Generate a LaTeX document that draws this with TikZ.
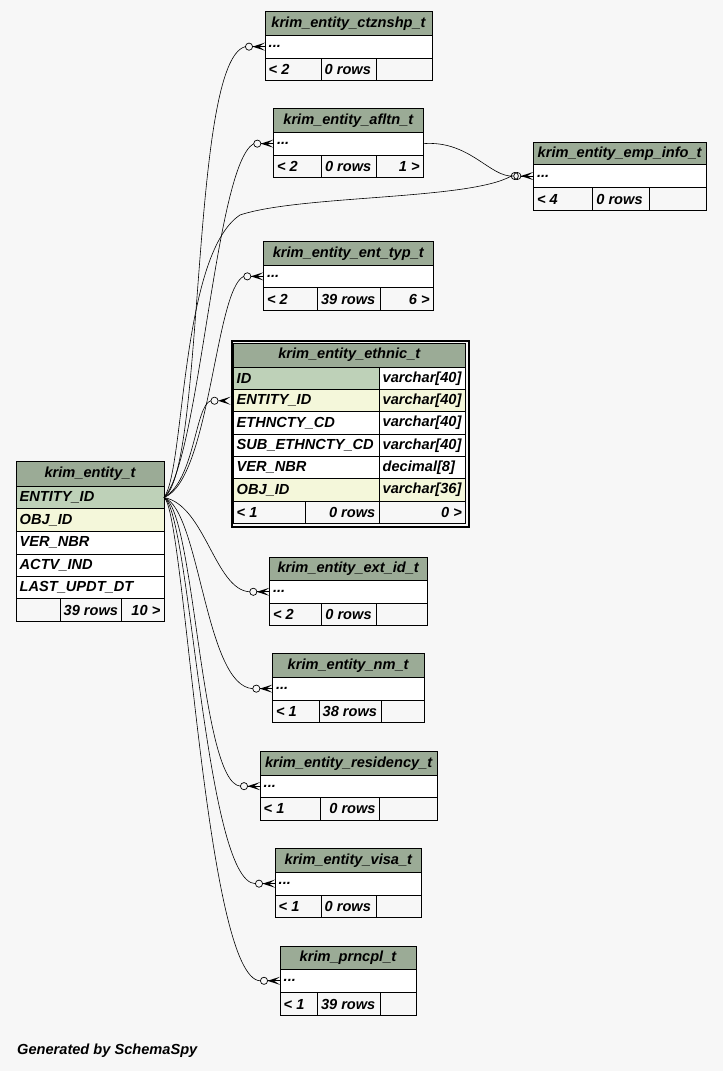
\documentclass[tikz,border=0pt]{standalone}
\usepackage{fontspec}
\setmainfont{Liberation Sans}
\usetikzlibrary{calc}
\definecolor{bgc}{HTML}{F7F7F7}
\definecolor{headc}{HTML}{9BAB96}
\definecolor{pkc}{HTML}{BED1B8}
\definecolor{fkc}{HTML}{F4F7DA}
\tikzset{
  cellbox/.style={draw=black, line width=0.9pt, inner sep=0pt, outer sep=0pt},
  celltext/.style={inner xsep=3.5pt, inner ysep=0pt, font=\fontsize{14.6}{16}\selectfont\bfseries\itshape},
  rel/.style={draw=black, line width=0.6pt},
}
% \tcell{name}{x1}{y1}{x2}{y2}{fill}{anchor}{text}
\newcommand\tcell[8]{%
  \node[cellbox, fill=#6, minimum width={#4-#2}, minimum height={#5-#3}, anchor=north west] (#1) at (#2,#3) {};
  \node[celltext, anchor=#7] (#1-t) at (#1.#7) {#8};
}
% \crowend{node}  zero-or-many end at west side of a row node
\newcommand\crowend[1]{%
  \draw[line width=0.7pt] ($(#1.west)+(-16,0)$) circle (3.6);
  \fill ($(#1.west)+(-12.5,0)$) -- ($(#1.west)+(0,-4)$) -- ($(#1.west)+(-6,0)$) -- ($(#1.west)+(0,4)$) -- cycle;
  \draw[line width=0.7pt] ($(#1.west)+(-12.5,0)$) -- (#1.west);
}
\begin{document}
\begin{tikzpicture}[x=1pt,y=-1pt]
\fill[bgc] (0,0) rectangle (723,1071);
\useasboundingbox (0,0) rectangle (723,1071);

% ---------- krim_entity_t ----------
\tcell{ent-h}{16}{461}{164}{486.3}{headc}{center}{krim\_entity\_t}
\tcell{ent-pk}{16}{486.3}{164}{508.7}{pkc}{west}{ENTITY\_ID}
\tcell{ent-c2}{16}{508.7}{164}{531.3}{fkc}{west}{OBJ\_ID}
\tcell{ent-c3}{16}{531.3}{164}{554}{white}{west}{VER\_NBR}
\tcell{ent-c4}{16}{554}{164}{576.3}{white}{west}{ACTV\_IND}
\tcell{ent-c5}{16}{576.3}{164}{598.7}{white}{west}{LAST\_UPDT\_DT}
\tcell{ent-f1}{16}{598.7}{60}{621.3}{bgc}{west}{}
\tcell{ent-f2}{60}{598.7}{121.3}{621.3}{bgc}{west}{39 rows}
\tcell{ent-f3}{121.3}{598.7}{164}{621.3}{bgc}{east}{10 >}

% ---------- krim_entity_ctznshp_t ----------
\tcell{ctz-h}{265}{11.5}{432}{35.3}{headc}{center}{krim\_entity\_ctznshp\_t}
\tcell{ctz-r}{265}{35.3}{432}{58}{white}{west}{...}
\tcell{ctz-f1}{265}{58}{321}{80.7}{bgc}{west}{< 2}
\tcell{ctz-f2}{321}{58}{376.7}{80.7}{bgc}{west}{0 rows}
\tcell{ctz-f3}{376.7}{58}{432}{80.7}{bgc}{east}{}

% ---------- krim_entity_afltn_t ----------
\tcell{afl-h}{273.3}{108.3}{423.3}{132.3}{headc}{center}{krim\_entity\_afltn\_t}
\tcell{afl-r}{273.3}{132.3}{423.3}{155}{white}{west}{...}
\tcell{afl-f1}{273.3}{155}{321.3}{177.3}{bgc}{west}{< 2}
\tcell{afl-f2}{321.3}{155}{376.7}{177.3}{bgc}{west}{0 rows}
\tcell{afl-f3}{376.7}{155}{423.3}{177.3}{bgc}{east}{1 >}

% ---------- krim_entity_emp_info_t ----------
\tcell{emp-h}{533.3}{142}{706}{164.7}{headc}{center}{krim\_entity\_emp\_info\_t}
\tcell{emp-r}{533.3}{164.7}{706}{187.3}{white}{west}{...}
\tcell{emp-f1}{533.3}{187.3}{592.7}{210.7}{bgc}{west}{< 4}
\tcell{emp-f2}{592.7}{187.3}{649.3}{210.7}{bgc}{west}{0 rows}
\tcell{emp-f3}{649.3}{187.3}{706}{210.7}{bgc}{east}{}

% ---------- krim_entity_ent_typ_t ----------
\tcell{typ-h}{263.3}{241.7}{433.3}{265}{headc}{center}{krim\_entity\_ent\_typ\_t}
\tcell{typ-r}{263.3}{265}{433.3}{287.7}{white}{west}{...}
\tcell{typ-f1}{263.3}{287.7}{317.3}{310.7}{bgc}{west}{< 2}
\tcell{typ-f2}{317.3}{287.7}{380.7}{310.7}{bgc}{west}{39 rows}
\tcell{typ-f3}{380.7}{287.7}{433.3}{310.7}{bgc}{east}{6 >}

% ---------- krim_entity_ethnic_t ----------
\node[draw=black, line width=2.2pt, minimum width=237, minimum height=186, anchor=north west, inner sep=0pt] (eth) at (230.5,340) {};
\tcell{eth-h}{233}{343}{465.5}{367.3}{headc}{center}{krim\_entity\_ethnic\_t}
\tcell{eth-c1}{233}{367.3}{379}{389.6}{pkc}{west}{ID}
\tcell{eth-d1}{379}{367.3}{465.5}{389.6}{white}{west}{varchar[40]}
\tcell{eth-c2}{233}{389.6}{379}{411.9}{fkc}{west}{ENTITY\_ID}
\tcell{eth-d2}{379}{389.6}{465.5}{411.9}{fkc}{west}{varchar[40]}
\tcell{eth-c3}{233}{411.9}{379}{434.2}{white}{west}{ETHNCTY\_CD}
\tcell{eth-d3}{379}{411.9}{465.5}{434.2}{white}{west}{varchar[40]}
\tcell{eth-c4}{233}{434.2}{379}{456.5}{white}{west}{SUB\_ETHNCTY\_CD}
\tcell{eth-d4}{379}{434.2}{465.5}{456.5}{white}{west}{varchar[40]}
\tcell{eth-c5}{233}{456.5}{379}{478.8}{white}{west}{VER\_NBR}
\tcell{eth-d5}{379}{456.5}{465.5}{478.8}{white}{west}{decimal[8]}
\tcell{eth-c6}{233}{478.8}{379}{501.1}{fkc}{west}{OBJ\_ID}
\tcell{eth-d6}{379}{478.8}{465.5}{501.1}{fkc}{west}{varchar[36]}
\tcell{eth-f1}{233}{501.1}{305.3}{523}{bgc}{west}{< 1}
\tcell{eth-f2}{305.3}{501.1}{379}{523}{bgc}{east}{0 rows}
\tcell{eth-f3}{379}{501.1}{465.5}{523}{bgc}{east}{0 >}

% ---------- krim_entity_ext_id_t ----------
\tcell{ext-h}{269.3}{557}{427}{580.3}{headc}{center}{krim\_entity\_ext\_id\_t}
\tcell{ext-r}{269.3}{580.3}{427}{603.3}{white}{west}{...}
\tcell{ext-f1}{269.3}{603.3}{321.7}{625.7}{bgc}{west}{< 2}
\tcell{ext-f2}{321.7}{603.3}{376.7}{625.7}{bgc}{west}{0 rows}
\tcell{ext-f3}{376.7}{603.3}{427}{625.7}{bgc}{east}{}

% ---------- krim_entity_nm_t ----------
\tcell{nm-h}{272.3}{653.5}{424}{677.3}{headc}{center}{krim\_entity\_nm\_t}
\tcell{nm-r}{272.3}{677.3}{424}{700}{white}{west}{...}
\tcell{nm-f1}{272.3}{700}{319}{722.7}{bgc}{west}{< 1}
\tcell{nm-f2}{319}{700}{381}{722.7}{bgc}{west}{38 rows}
\tcell{nm-f3}{381}{700}{424}{722.7}{bgc}{east}{}

% ---------- krim_entity_residency_t ----------
\tcell{res-h}{260}{751.7}{437.3}{775}{headc}{center}{krim\_entity\_residency\_t}
\tcell{res-r}{260}{775}{437.3}{797.3}{white}{west}{...}
\tcell{res-f1}{260}{797.3}{320}{820}{bgc}{west}{< 1}
\tcell{res-f2}{320}{797.3}{379.3}{820}{bgc}{east}{0 rows}
\tcell{res-f3}{379.3}{797.3}{437.3}{820}{bgc}{east}{}

% ---------- krim_entity_visa_t ----------
\tcell{vis-h}{275}{848.3}{421.7}{872.3}{headc}{center}{krim\_entity\_visa\_t}
\tcell{vis-r}{275}{872.3}{421.7}{895}{white}{west}{...}
\tcell{vis-f1}{275}{895}{321}{917.3}{bgc}{west}{< 1}
\tcell{vis-f2}{321}{895}{376.7}{917.3}{bgc}{west}{0 rows}
\tcell{vis-f3}{376.7}{895}{421.7}{917.3}{bgc}{east}{}

% ---------- krim_prncpl_t ----------
\tcell{prn-h}{280}{946}{416}{969.3}{headc}{center}{krim\_prncpl\_t}
\tcell{prn-r}{280}{969.3}{416}{992.3}{white}{west}{...}
\tcell{prn-f1}{280}{992.3}{317.3}{1015.7}{bgc}{west}{< 1}
\tcell{prn-f2}{317.3}{992.3}{380.7}{1015.7}{bgc}{west}{39 rows}
\tcell{prn-f3}{380.7}{992.3}{416}{1015.7}{bgc}{east}{}

% ---------- connectors ----------
\coordinate (src) at (ent-pk.east);
\draw[rel] (src) .. controls (205,470) and (190,60) .. ($(ctz-r.west)+(-19.6,0)$);
\draw[rel] (src) .. controls (200,460) and (215,165) .. ($(afl-r.west)+(-19.6,0)$);
\draw[rel] (src) .. controls (185,470) and (180,255) .. (240,215)
                 .. controls (300,195) and (470,200) .. ($(emp-r.west)+(-22,0)$);
\draw[rel] (afl-r.east) .. controls (470,140) and (490,178) .. ($(emp-r.west)+(-19.6,0)$);
\draw[rel] (src) .. controls (210,480) and (215,290) .. ($(typ-r.west)+(-19.6,0)$);
\coordinate (ethin) at (eth.west|-eth-c2.west);
\draw[rel] (src) .. controls (195,480) and (195,405) .. ($(ethin)+(-19.6,0)$);
\draw[rel] (src) .. controls (205,505) and (215,590) .. ($(ext-r.west)+(-19.6,0)$);
\draw[rel] (src) .. controls (200,510) and (205,686) .. ($(nm-r.west)+(-19.6,0)$);
\draw[rel] (src) .. controls (195,510) and (200,783) .. ($(res-r.west)+(-19.6,0)$);
\draw[rel] (src) .. controls (190,510) and (205,883) .. ($(vis-r.west)+(-19.6,0)$);
\draw[rel] (src) .. controls (185,510) and (205,980) .. ($(prn-r.west)+(-19.6,0)$);

\crowend{ctz-r}
\crowend{afl-r}
\crowend{emp-r}
\draw[line width=0.7pt] ($(emp-r.west)+(-18.5,0)$) circle (3.6);
\crowend{typ-r}
\draw[line width=0.7pt] ($(ethin)+(-16,0)$) circle (3.6);
\fill ($(ethin)+(-12.5,0)$) -- ($(ethin)+(0,-4)$) -- ($(ethin)+(-6,0)$) -- ($(ethin)+(0,4)$) -- cycle;
\crowend{ext-r}
\crowend{nm-r}
\crowend{res-r}
\crowend{vis-r}
\crowend{prn-r}

\node[celltext, anchor=west, inner xsep=0pt] (gen) at (17,1051) {Generated by SchemaSpy};
\end{tikzpicture}
\end{document}
